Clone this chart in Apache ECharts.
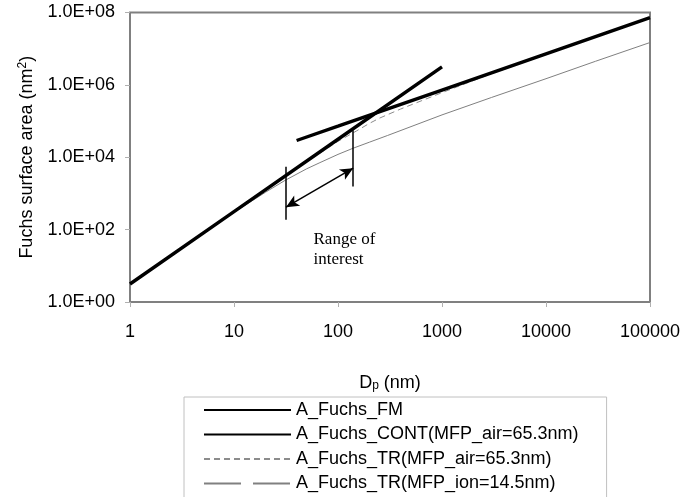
<!DOCTYPE html>
<html>
<head>
<meta charset="utf-8">
<script src="https://cdn.jsdelivr.net/npm/echarts@6/dist/echarts.min.js"></script>
<style>
  html, body { margin: 0; padding: 0; background: #fff; }
  #chart { width: 697px; height: 497px; }
</style>
</head>
<body>
<div id="chart"></div>
<script>
// Fuchs surface area versus particle diameter, log-log.
const xTicks = [1, 10, 100, 1000, 10000, 100000];
const yTicks = [1, 1e2, 1e4, 1e6, 1e8];

// Free-molecular limit
const fmD = [1, 10, 100, 1000];
const fmA = [3.14, 314, 3.14e4, 3.14e6];

// Continuum limit, MFP of air 65.3 nm
const contD = [40, 100, 1000, 10000, 100000];
const contA = [2.9e4, 7.2e4, 7.2e5, 7.2e6, 7.2e7];

// Transition regime, MFP of air 65.3 nm
const trAirD = [1, 3, 10, 30, 50, 100, 150, 200, 250, 400, 1000, 3000, 10000, 100000];
const trAirA = [3.1, 28, 310, 2.75e3, 7.5e3, 2.75e4, 5.3e4, 8.6e4, 1.2e5, 2.15e5, 6.1e5, 2.05e6, 6.9e6, 7.2e7];

// Transition regime, MFP of ion 14.5 nm
const trIonD = [1, 3, 5, 10, 20, 31, 50, 67, 100, 140, 200, 300, 1000, 3000, 10000, 30000, 100000];
const trIonA = [3.1, 28, 77, 300, 1.07e3, 2.3e3, 4.8e3, 7.1e3, 1.2e4, 1.78e4, 2.6e4, 4.0e4, 1.48e5, 4.5e5, 1.48e6, 4.5e6, 1.48e7];

// Range of interest bracket
const rangeLo = 31.6;
const rangeHi = 140;
const rangeLoSpan = [186, 5500];
const rangeHiSpan = [1550, 5.6e4];
const arrowFrom = [rangeLo, 417];
const arrowTo = [rangeHi, 5000];
const rangeTextAt = [57.5, 28];

const names = [
  'A_Fuchs_FM',
  'A_Fuchs_CONT(MFP_air=65.3nm)',
  'A_Fuchs_TR(MFP_air=65.3nm)',
  'A_Fuchs_TR(MFP_ion=14.5nm)'
];

const pair = (xs, ys) => xs.map((x, i) => [x, ys[i]]);
const FONT = '"Liberation Sans", Arial, sans-serif';

const chart = echarts.init(document.getElementById('chart'));

chart.setOption({
  animation: false,
  backgroundColor: '#ffffff',
  grid: {
    left: 130, top: 12.5, right: 47, bottom: 195,
    show: true, borderColor: '#808080', borderWidth: 2, backgroundColor: 'transparent'
  },
  xAxis: {
    type: 'log', logBase: 10, min: xTicks[0], max: xTicks[xTicks.length - 1],
    name: 'D{sub|p} (nm)', nameLocation: 'middle', nameGap: 72,
    nameTextStyle: {
      fontFamily: FONT, fontSize: 18, color: '#000',
      rich: { sub: { fontFamily: FONT, fontSize: 12, color: '#000', verticalAlign: 'bottom', padding: [6, 0, 0, 0] } }
    },
    axisLine: { show: false },
    axisTick: { show: true, length: 5, lineStyle: { color: '#b0b0b0', width: 1 } },
    axisLabel: {
      margin: 21, fontFamily: FONT, fontSize: 18, color: '#000',
      formatter: v => String(Math.round(v))
    },
    splitLine: { show: false },
    minorTick: { show: false }
  },
  yAxis: {
    // one tick every two decades
    type: 'log', logBase: 100, min: yTicks[0], max: yTicks[yTicks.length - 1],
    name: 'Fuchs surface area (nm{sup|2})', nameLocation: 'middle', nameGap: 93, nameRotate: 90,
    nameTextStyle: {
      fontFamily: FONT, fontSize: 18, color: '#000',
      rich: { sup: { fontFamily: FONT, fontSize: 12, color: '#000', verticalAlign: 'top', padding: [0, 0, 8, 0] } }
    },
    axisLine: { show: false },
    axisTick: { show: true, length: 5, lineStyle: { color: '#b0b0b0', width: 1 } },
    axisLabel: {
      margin: 15, fontFamily: FONT, fontSize: 18, color: '#000',
      formatter: v => {
        const e = Math.round(Math.log10(v));
        return '1.0E+' + (e < 10 ? '0' + e : String(e));
      }
    },
    splitLine: { show: false }
  },
  legend: {
    orient: 'vertical', left: 184, top: 397, height: 200,
    padding: [3, 28, 30, 19],
    itemWidth: 87, itemHeight: 14, itemGap: 4.5,
    borderColor: '#c0c0c0', borderWidth: 1,
    itemStyle: { opacity: 0 },
    textStyle: { fontFamily: FONT, fontSize: 18, color: '#000', lineHeight: 20 },
    data: [
      { name: names[0] },
      { name: names[1] },
      { name: names[2] },
      { name: names[3], lineStyle: { type: [37, 12] } }
    ]
  },
  series: [
    {
      name: names[2], type: 'line', data: pair(trAirD, trAirA), z: 2,
      symbol: 'none', showSymbol: false, silent: true,
      itemStyle: { color: '#8c8c8c' },
      lineStyle: { color: '#8c8c8c', width: 1, type: [6, 4] }
    },
    {
      name: names[3], type: 'line', data: pair(trIonD, trIonA), z: 2,
      symbol: 'none', showSymbol: false, silent: true,
      itemStyle: { color: '#808080' },
      lineStyle: { color: '#808080', width: 1, type: 'solid' }
    },
    {
      name: names[1], type: 'line', data: pair(contD, contA), z: 3,
      symbol: 'none', showSymbol: false, silent: true,
      itemStyle: { color: '#000' },
      lineStyle: { color: '#000', width: 3.4 }
    },
    {
      name: names[0], type: 'line', data: pair(fmD, fmA), z: 3,
      symbol: 'none', showSymbol: false, silent: true,
      itemStyle: { color: '#000' },
      lineStyle: { color: '#000', width: 3.4 },
      markLine: {
        silent: true, animation: false,
        label: { show: false },
        lineStyle: { color: '#000', width: 1.5, type: 'solid' },
        symbol: ['none', 'none'],
        data: [
          [{ coord: [rangeLo, rangeLoSpan[0]] }, { coord: [rangeLo, rangeLoSpan[1]] }],
          [{ coord: [rangeHi, rangeHiSpan[0]] }, { coord: [rangeHi, rangeHiSpan[1]] }],
          [
            { coord: arrowFrom, symbol: 'arrow', symbolSize: [9, 13] },
            { coord: arrowTo, symbol: 'arrow', symbolSize: [9, 13] }
          ]
        ]
      },
      markPoint: {
        silent: true, animation: false,
        symbol: 'rect', symbolSize: 1,
        itemStyle: { color: 'rgba(0,0,0,0)' },
        label: {
          show: true, position: 'right', distance: 0,
          fontFamily: '"Liberation Serif", "Times New Roman", serif',
          fontSize: 17, lineHeight: 20, color: '#000', align: 'left',
          formatter: 'Range of\ninterest'
        },
        data: [{ coord: rangeTextAt }]
      }
    }
  ]
});
</script>
</body>
</html>
